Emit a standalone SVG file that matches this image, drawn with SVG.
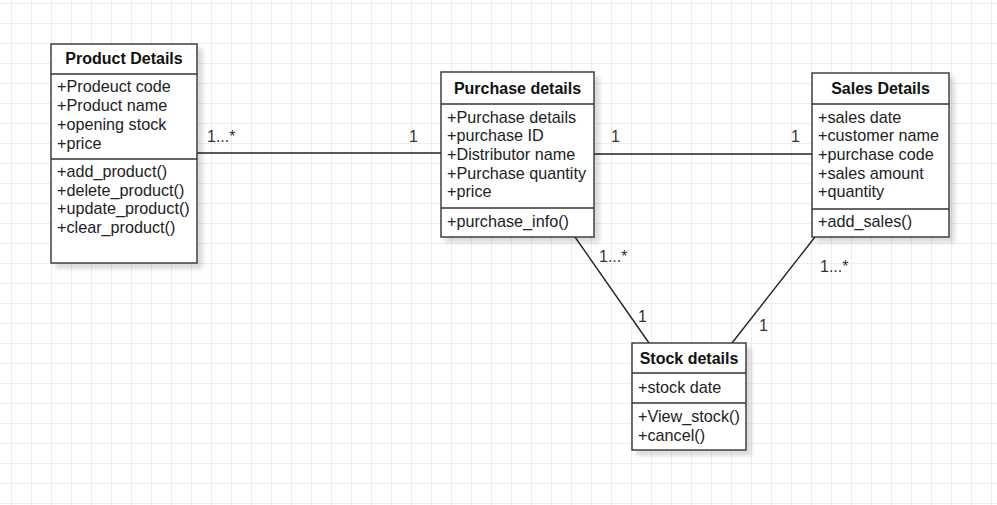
<svg xmlns="http://www.w3.org/2000/svg" width="997" height="505" viewBox="0 0 997 505">
<defs>
<pattern id="grid" x="11" y="3" width="20" height="20" patternUnits="userSpaceOnUse">
<path d="M0 0H20M0 0V20" fill="none" stroke="#e9e9e9" stroke-width="1.6"/>
</pattern>
<filter id="sh" x="-10%" y="-10%" width="130%" height="130%">
<feGaussianBlur in="SourceAlpha" stdDeviation="2"/>
<feOffset dx="5" dy="5" result="b"/>
<feComponentTransfer><feFuncA type="linear" slope="0.14"/></feComponentTransfer>
<feMerge><feMergeNode/><feMergeNode in="SourceGraphic"/></feMerge>
</filter>
</defs>
<style>
.box{fill:#fff;stroke:#333;stroke-width:1.4;filter:url(#sh)}
.sep{stroke:#333;stroke-width:1.4}
.t{font-family:"Liberation Sans",Arial,sans-serif;font-size:16.2px;fill:#222}
.h{font-family:"Liberation Sans",Arial,sans-serif;font-size:16px;font-weight:bold;fill:#111;text-anchor:middle}
.lbl{font-family:"Liberation Sans",Arial,sans-serif;font-size:16px;fill:#333}
.edge{stroke:#222;stroke-width:1.4;fill:none}
</style>
<rect width="997" height="505" fill="#fff"/>
<rect width="997" height="505" fill="url(#grid)"/>

<g id="connectors">
<line class="edge" x1="197" y1="153" x2="441" y2="153"/>
<line class="edge" x1="594" y1="154" x2="812" y2="154"/>
<line class="edge" x1="575" y1="237" x2="649" y2="343"/>
<line class="edge" x1="815" y1="237" x2="732" y2="343"/>
<text class="lbl" x="207" y="142">1...*</text>
<text class="lbl" x="409" y="142">1</text>
<text class="lbl" x="611" y="142">1</text>
<text class="lbl" x="791" y="142">1</text>
<text class="lbl" x="599" y="262">1...*</text>
<text class="lbl" x="638" y="322">1</text>
<text class="lbl" x="820" y="272">1...*</text>
<text class="lbl" x="759" y="331">1</text>
</g>

<g id="product-details">
<rect class="box" x="51" y="44" width="146" height="219"/>
<line class="sep" x1="51" y1="74" x2="197" y2="74"/>
<line class="sep" x1="51" y1="159" x2="197" y2="159"/>
<text class="h" x="124" y="64">Product Details</text>
<text class="t" x="57" y="92">+Prodeuct code</text>
<text class="t" x="57" y="111">+Product name</text>
<text class="t" x="57" y="130">+opening stock</text>
<text class="t" x="57" y="148.5">+price</text>
<text class="t" x="57" y="177">+add_product()</text>
<text class="t" x="57" y="195.5">+delete_product()</text>
<text class="t" x="57" y="214">+update_product()</text>
<text class="t" x="57" y="232.5">+clear_product()</text>
</g>

<g id="purchase-details">
<rect class="box" x="441" y="72" width="153" height="165"/>
<line class="sep" x1="441" y1="104" x2="594" y2="104"/>
<line class="sep" x1="441" y1="208" x2="594" y2="208"/>
<text class="h" x="517.5" y="93.5">Purchase details</text>
<text class="t" x="447" y="122.5">+Purchase details</text>
<text class="t" x="447" y="141">+purchase ID</text>
<text class="t" x="447" y="160">+Distributor name</text>
<text class="t" x="447" y="178.5">+Purchase quantity</text>
<text class="t" x="447" y="197">+price</text>
<text class="t" x="447" y="226.5">+purchase_info()</text>
</g>

<g id="sales-details">
<rect class="box" x="812" y="73" width="137" height="164"/>
<line class="sep" x1="812" y1="104" x2="949" y2="104"/>
<line class="sep" x1="812" y1="209" x2="949" y2="209"/>
<text class="h" x="880.5" y="93.5">Sales Details</text>
<text class="t" x="818" y="122.5">+sales date</text>
<text class="t" x="818" y="141">+customer name</text>
<text class="t" x="818" y="160">+purchase code</text>
<text class="t" x="818" y="178.5">+sales amount</text>
<text class="t" x="818" y="197">+quantity</text>
<text class="t" x="818" y="226.5">+add_sales()</text>
</g>

<g id="stock-details">
<rect class="box" x="632" y="343" width="114" height="107"/>
<line class="sep" x1="632" y1="373" x2="746" y2="373"/>
<line class="sep" x1="632" y1="403" x2="746" y2="403"/>
<text class="h" x="689" y="364">Stock details</text>
<text class="t" x="638" y="393">+stock date</text>
<text class="t" x="638" y="422">+View_stock()</text>
<text class="t" x="638" y="440.5">+cancel()</text>
</g>
</svg>
